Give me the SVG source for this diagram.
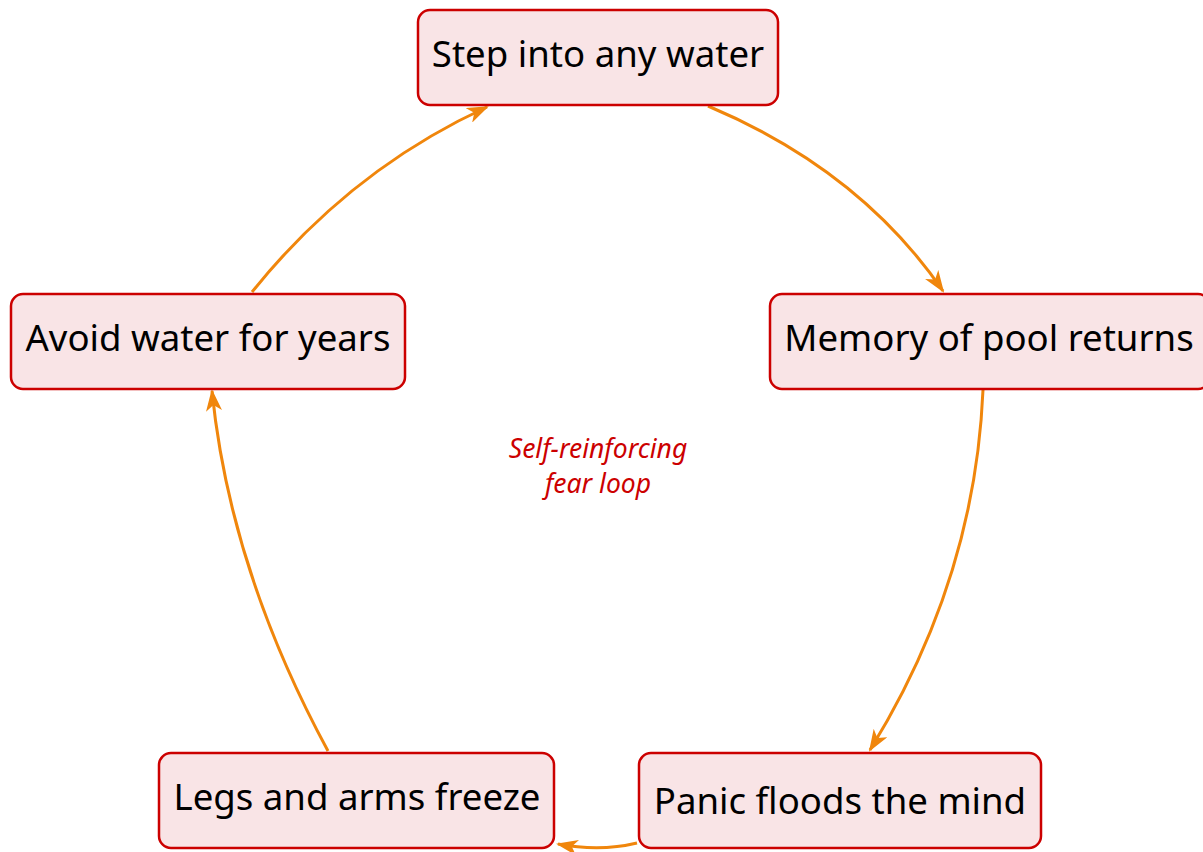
<svg xmlns="http://www.w3.org/2000/svg" width="1203" height="852" viewBox="0 0 1203 852">
  <style>
    .box { fill: #f9e4e6; stroke: #cc0000; stroke-width: 2.5; }
    .lbl { font-family: "Noto Sans", "Open Sans", sans-serif; font-size: 36.6px; fill: #000; text-anchor: middle; }
    .edge { fill: none; stroke: #f0860c; stroke-width: 3; marker-end: url(#arrow); }
    .note { font-family: "Noto Sans", "Open Sans", sans-serif; font-size: 26.5px; font-style: italic; fill: #cc0000; text-anchor: middle; }
  </style>
  <defs>
    <marker id="arrow" viewBox="0 0 22 16" refX="20" refY="8" markerWidth="22" markerHeight="16" markerUnits="userSpaceOnUse" orient="auto">
      <path d="M0,0 L22,8 L0,16 L6,8 Z" fill="#f0860c"/>
    </marker>
  </defs>
  <rect width="1203" height="852" fill="#ffffff"/>

  <g id="connectors">
    <path class="edge" d="M708,106 Q860,170 943,291"/>
    <path class="edge" d="M983,390 Q975,580 870,750"/>
    <path class="edge" d="M637,843 Q600,852 558,844"/>
    <path class="edge" d="M328,751 Q230,570 212,391"/>
    <path class="edge" d="M252,292 Q350,170 487,107"/>
  </g>

  <g id="node-step">
    <rect class="box" x="418" y="10" width="360" height="95" rx="12"/>
    <text class="lbl" x="598" y="67">Step into any water</text>
  </g>
  <g id="node-memory">
    <rect class="box" x="770" y="294" width="440" height="95" rx="12"/>
    <text class="lbl" x="989" y="351">Memory of pool returns</text>
  </g>
  <g id="node-panic">
    <rect class="box" x="639" y="753" width="402" height="95" rx="12"/>
    <text class="lbl" x="840" y="814">Panic floods the mind</text>
  </g>
  <g id="node-legs">
    <rect class="box" x="159" y="753" width="395" height="95" rx="12"/>
    <text class="lbl" x="357" y="810">Legs and arms freeze</text>
  </g>
  <g id="node-avoid">
    <rect class="box" x="11" y="294" width="394" height="95" rx="12"/>
    <text class="lbl" x="208" y="351">Avoid water for years</text>
  </g>

  <g id="loop-label">
    <text class="note" x="598" y="458">Self-reinforcing</text>
    <text class="note" x="598" y="493">fear loop</text>
  </g>
</svg>
